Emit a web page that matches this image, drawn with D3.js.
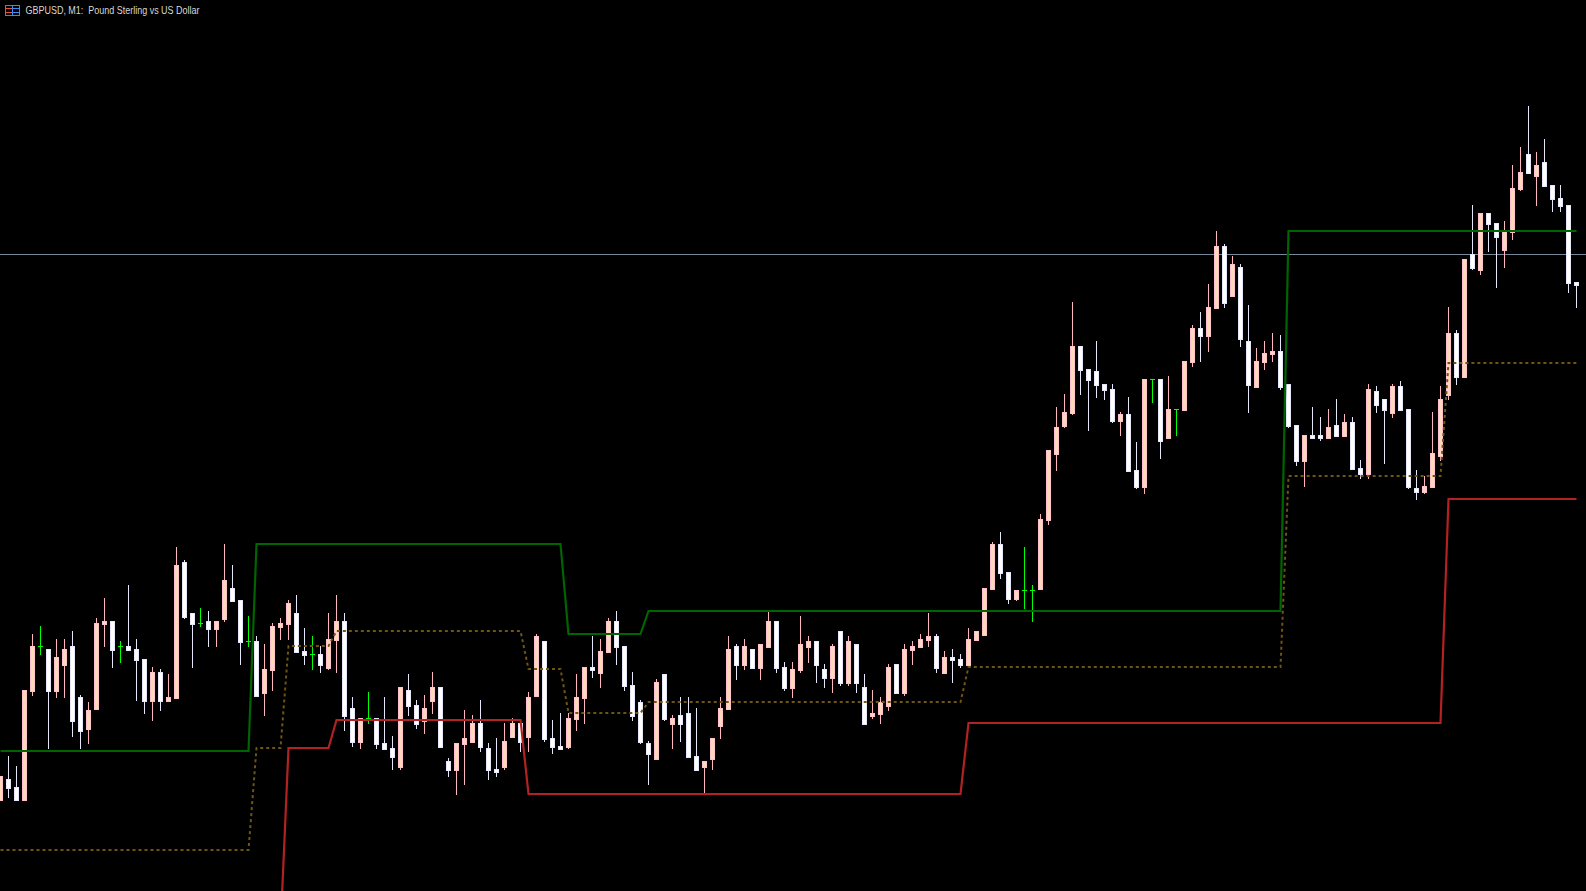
<!DOCTYPE html>
<html>
<head>
<meta charset="utf-8">
<title>GBPUSD, M1</title>
<script src="https://cdn.jsdelivr.net/npm/d3@7/dist/d3.min.js"></script>
<style>
html,body{margin:0;padding:0;background:#000;overflow:hidden}
svg{display:block}
</style>
</head>
<body>
<svg id="chart" width="1586" height="891"></svg>
<script>
// Prices are stored as points (0.00001) above basePrice.
const basePrice = 1.25;
const point = 0.00001;
const symbolTitle = "GBPUSD, M1:  Pound Sterling vs US Dollar";
const bidPoints = 746;

const openPts = [199,221,213,199,308,354,351,308,334,354,303,270,290,375,379,354,354,351,341,298,
328,298,301,438,387,377,379,370,380,412,400,359,359,306,329,372,375,387,349,346,
346,331,359,379,292,257,282,282,257,252,232,310,295,278,298,313,239,229,255,257,
277,252,231,232,262,277,262,303,359,262,254,252,280,301,333,326,347,379,354,315,
298,257,240,326,275,285,287,244,232,240,273,290,354,334,351,331,352,379,333,311,
329,352,359,331,321,369,316,356,313,283,285,293,336,306,349,352,359,364,326,343,
341,334,359,364,410,456,428,400,410,410,410,479,545,573,586,654,631,629,616,611,
578,586,530,512,621,621,561,591,589,637,672,663,691,754,703,733,659,612,637,645,
649,616,575,538,565,565,561,575,563,578,532,525,609,601,586,614,591,512,507,512,
543,604,667,622,746,729,787,777,749,767,810,846,823,838,815,802,795,718];
const highPts = [224,244,234,310,366,374,351,361,361,369,305,298,382,402,379,359,415,361,341,333,
331,326,453,440,387,392,389,379,456,435,400,384,364,356,377,382,400,405,372,364,
354,387,405,387,303,282,308,282,303,264,313,326,300,305,328,313,242,257,290,285,
300,257,262,277,282,277,308,366,359,280,287,287,326,333,364,361,382,389,354,328,
300,259,321,326,285,303,303,292,239,262,303,364,356,361,351,356,388,379,338,338,
384,364,359,336,356,369,364,356,326,310,303,336,336,356,359,366,387,366,349,351,
346,372,369,412,458,468,428,410,453,415,486,550,593,606,698,654,631,659,616,616,
588,603,558,621,621,621,624,591,639,675,688,716,769,756,744,736,695,652,659,667,
665,616,575,565,593,583,591,601,586,583,540,616,614,601,616,619,591,530,524,588,
614,693,670,741,795,787,787,777,779,835,853,894,848,861,815,815,795,718];
const lowPts = [199,202,199,199,304,345,251,302,302,263,251,256,290,353,332,337,349,299,286,279,
289,298,301,381,332,373,353,353,378,398,335,353,303,284,309,360,360,347,335,330,
327,330,327,269,253,251,276,251,250,230,230,284,271,266,286,252,223,205,215,257,
248,220,223,230,262,248,248,303,258,246,250,251,269,276,322,312,347,335,309,279,
256,215,240,279,251,258,242,229,207,230,261,290,320,330,331,320,352,327,309,302,
327,337,317,312,307,314,314,307,275,281,276,289,306,304,335,352,353,327,326,317,
332,334,359,364,410,421,396,399,391,378,410,475,529,572,585,605,569,602,600,577,
564,528,511,506,597,541,561,564,589,633,638,648,691,692,703,653,587,612,630,638,
610,572,534,513,561,559,561,563,563,530,521,521,587,536,582,589,511,500,506,512,
539,600,615,622,730,725,748,712,732,760,809,826,794,813,788,788,707,692];
const closePts = [224,211,199,310,354,354,308,343,351,278,268,290,377,379,349,354,349,339,298,328,
298,303,435,382,375,377,370,379,420,398,357,359,303,331,374,377,397,347,344,346,
334,361,379,283,257,282,282,255,250,242,313,293,275,292,313,252,229,257,262,277,
252,229,227,259,277,257,303,364,260,252,250,282,303,333,329,349,379,352,313,283,
257,245,318,280,282,275,242,229,239,262,292,351,334,354,331,356,379,331,311,331,
356,359,334,321,354,316,359,316,275,287,298,333,306,351,354,361,364,331,343,339,
334,361,369,412,456,426,400,410,410,410,481,550,573,588,654,629,619,614,609,578,
586,528,512,621,621,558,591,591,639,672,663,693,754,696,736,660,614,639,647,649,
612,573,538,565,561,561,573,563,578,530,525,611,594,589,614,589,512,507,514,547,
601,667,622,741,731,787,775,762,770,812,828,826,835,813,800,793,716,714];

// Indicator channel levels, one level per run, with the number of bars in the run.
const upperLevels = [249,456,366,389,769];
const upperRuns = [32,39,10,80,37];
const lowerLevels = [70,252,280,206,277,501];
const lowerRuns = [36,6,24,55,60,17];
const middleLevels = [150,252,354,369,331,287,298,333,524,637];
const middleRuns = [32,4,6,24,5,10,40,40,20,17];

const width = 1586, height = 891;
const toPrice = p => basePrice + p * point;
const expand = (levels, runs) => d3.merge(levels.map((v, i) => d3.range(runs[i]).map(() => toPrice(v))));

const x = d3.scaleLinear().domain([0, 197]).range([0, 1576]);
const y = d3.scaleLinear().domain([toPrice(109), toPrice(1000)]).range([height, 0]);
const Y = p => Math.round(y(p));

const candles = openPts.map((o, i) => ({
  i, open: toPrice(o), high: toPrice(highPts[i]), low: toPrice(lowPts[i]), close: toPrice(closePts[i]),
  kind: closePts[i] > o ? "bull" : closePts[i] < o ? "bear" : "doji"
}));

const palette = {
  bull: {wick: "#ffb6c1", border: "#ffc0cb", fill: "#ffdab9"},
  bear: {wick: "#e6e6fa", border: "#e6e6fa", fill: "#ffffff"},
  doji: {wick: "#00ff00", border: "#00ff00", fill: "#00ff00"}
};

const svg = d3.select("#chart");
svg.append("rect").attr("width", width).attr("height", height).attr("fill", "#000");

// Bid line (behind the candles)
svg.append("rect").attr("x", 0).attr("width", width)
  .attr("y", Y(toPrice(bidPoints))).attr("height", 1).attr("fill", "#778899");

const gCandles = svg.append("g").attr("shape-rendering", "crispEdges");
const c = gCandles.selectAll("g").data(candles).join("g");
c.append("rect").attr("x", d => x(d.i)).attr("width", 1)
  .attr("y", d => Y(d.high)).attr("height", d => Math.max(1, Y(d.low) - Y(d.high)))
  .attr("fill", d => palette[d.kind].wick);
c.append("rect").attr("x", d => x(d.i) - 2).attr("width", 5)
  .attr("y", d => Y(Math.max(d.open, d.close)))
  .attr("height", d => Math.max(1, Y(Math.min(d.open, d.close)) - Y(Math.max(d.open, d.close))))
  .attr("fill", d => palette[d.kind].border);
c.filter(d => d.kind !== "doji").append("rect").attr("x", d => x(d.i) - 1).attr("width", 3)
  .attr("y", d => Y(Math.max(d.open, d.close)) + 1)
  .attr("height", d => Math.max(0, Y(Math.min(d.open, d.close)) - Y(Math.max(d.open, d.close)) - 2))
  .attr("fill", d => palette[d.kind].fill);

// Channel lines
const line = d3.line().x((d, i) => x(i) + 0.5).y(d => y(d));
const gLines = svg.append("g").attr("fill", "none").attr("stroke-linejoin", "miter");
gLines.append("path").attr("d", line(expand(middleLevels, middleRuns)))
  .attr("stroke", "#6e5512").attr("stroke-width", 2).attr("stroke-dasharray", "3 3");
gLines.append("path").attr("d", line(expand(upperLevels, upperRuns)))
  .attr("stroke", "#006400").attr("stroke-width", 2.2);
gLines.append("path").attr("d", line(expand(lowerLevels, lowerRuns)))
  .attr("stroke", "#b22222").attr("stroke-width", 2.2);

// Title with window icon
const icon = svg.append("g").attr("fill", "none").attr("stroke-width", 1).attr("shape-rendering", "crispEdges");
icon.append("path").attr("stroke", "#f0503c").attr("d", "M12.5,5.5H5.5V15.5H12.5M5.5,8.5H12.5M5.5,12.5H12.5");
icon.append("path").attr("stroke", "#3a8df0").attr("d", "M12.5,5.5H19.5V15.5H12.5V5.5M12.5,8.5H19.5M12.5,12.5H19.5");
svg.append("text").attr("x", 25.5).attr("y", 14)
  .attr("font-family", "'Liberation Sans', 'Noto Sans', sans-serif").attr("font-size", 10.5)
  .attr("fill", "#d8d8d8").attr("xml:space", "preserve").style("white-space", "pre")
  .attr("textLength", 174).attr("lengthAdjust", "spacingAndGlyphs")
  .text(symbolTitle);
</script>
</body>
</html>
